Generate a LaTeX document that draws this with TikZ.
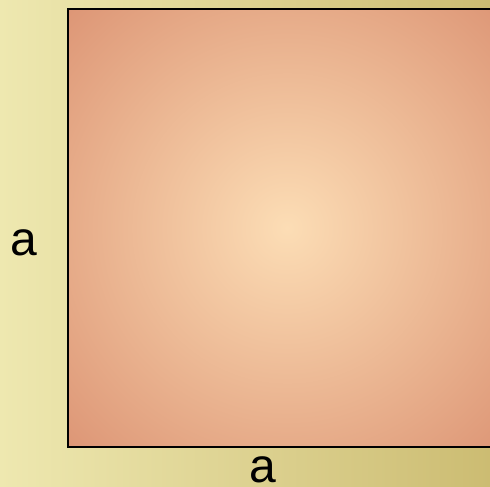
\documentclass[tikz,border=0pt]{standalone}
\usepackage{fontspec}
\setmainfont{Liberation Sans}
\definecolor{bgL}{HTML}{EEE8B0}
\definecolor{bgR}{HTML}{CCBC72}
\definecolor{sqC}{HTML}{FCDDB5}
\definecolor{sqE}{HTML}{DD9676}
\pgfdeclareradialshading{sqshade}{\pgfpoint{0bp}{0bp}}{%
  color(0bp)=(sqC); color(35.4bp)=(sqE); color(50bp)=(sqE)}
\begin{document}
\begin{tikzpicture}[x=1pt,y=-1pt,
  lbl/.style={font=\fontsize{48}{52}\selectfont, inner sep=0pt, text=black}]
\useasboundingbox (0,0) rectangle (490,487);
\begin{scope}
\clip (0,0) rectangle (490,487);
\shade[left color=bgL, right color=bgR] (0,0) rectangle (490,487);
\shade[shading=sqshade] (68,9) rectangle (506,447);
\draw[line width=2.2pt] (68,9) rectangle (506,447);
\end{scope}
\node[lbl] (la) at (23.5,243) {a};
\node[lbl] (lb) at (263,470) {a};
\end{tikzpicture}
\end{document}
